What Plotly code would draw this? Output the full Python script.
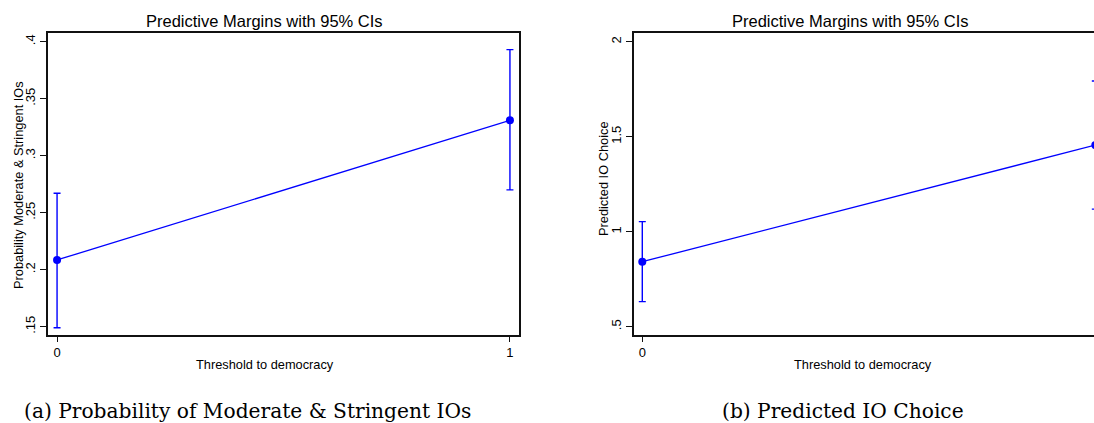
import plotly.graph_objects as go

W, H = 1094, 423

# ---- data ----
x_cat = [0, 1]
# (a) Probability of Moderate & Stringent IOs
a_margin = [0.2085, 0.331]
a_lower = [0.149, 0.270]
a_upper = [0.267, 0.393]
a_yticks = [0.15, 0.2, 0.25, 0.3, 0.35, 0.4]
a_yticktext = [".15", ".2", ".25", ".3", ".35", ".4"]
# (b) Predicted IO Choice
b_margin = [0.842, 1.456]
b_lower = [0.632, 1.119]
b_upper = [1.053, 1.793]
b_yticks = [0.5, 1, 1.5, 2]
b_yticktext = [".5", "1", "1.5", "2"]
x_ticks = [0, 1]
x_ticktext = ["0", "1"]

BLUE = "rgb(0,0,255)"
SANS = "Liberation Sans, Arial, sans-serif"
SERIF = "DejaVu Serif, serif"


def px_x(v):
    return v / W


def px_y(v):
    return 1 - v / H


fig = go.Figure()


def add_panel(xa, ya, margin, lower, upper):
    plus = [u - m for u, m in zip(upper, margin)]
    minus = [m - l for m, l in zip(margin, lower)]
    fig.add_trace(go.Scatter(
        x=x_cat, y=margin, mode="lines+markers",
        line=dict(color=BLUE, width=1.3),
        marker=dict(color=BLUE, size=8),
        error_y=dict(type="data", symmetric=False, array=plus, arrayminus=minus,
                     color=BLUE, thickness=1.4, width=3.5),
        xaxis=xa, yaxis=ya, showlegend=False, cliponaxis=True,
    ))


add_panel("x", "y", a_margin, a_lower, a_upper)
add_panel("x2", "y2", b_margin, b_lower, b_upper)

ydom = [px_y(335), px_y(33)]
axis_common = dict(showgrid=False, zeroline=False, ticks="outside",
                   tickcolor="#111", linecolor="#111", linewidth=1.5,
                   tickfont=dict(family=SANS, size=13, color="#000"))

fig.update_layout(
    width=W, height=H,
    margin=dict(l=0, r=0, t=0, b=0),
    paper_bgcolor="white", plot_bgcolor="white",
    xaxis=dict(domain=[px_x(48), px_x(519)], range=[-0.02, 1.02],
               tickvals=x_ticks, ticktext=x_ticktext, ticklen=5,
               showline=True, mirror=True, anchor="y", **axis_common),
    yaxis=dict(domain=ydom, range=[0.1427, 0.4076],
               tickvals=a_yticks, ticktext=a_yticktext, tickangle=-90, ticklen=6,
               showline=True, mirror=True, anchor="x", **axis_common),
    xaxis2=dict(domain=[px_x(634), 1.0], range=[-0.0183, 0.9971],
                tickvals=x_ticks, ticktext=x_ticktext, ticklen=5,
                showline=True, mirror=True, anchor="y2", **axis_common),
    yaxis2=dict(domain=ydom, range=[0.4563, 2.0458],
                tickvals=b_yticks, ticktext=b_yticktext, tickangle=-90, ticklen=6,
                showline=True, mirror=False, anchor="x2", **axis_common),
)

annots = []


def text(x, y, s, size, family=SANS, angle=0):
    annots.append(dict(x=px_x(x), y=px_y(y), xref="paper", yref="paper",
                       text=s, showarrow=False, xanchor="center", yanchor="middle",
                       textangle=angle, font=dict(family=family, size=size, color="#000")))


# titles
text(264.5, 21, "Predictive Margins with 95% CIs", 16.5)
text(850, 21, "Predictive Margins with 95% CIs", 16.5)
# axis titles
text(265, 364, "Threshold to democracy", 12.8)
text(863, 364, "Threshold to democracy", 12.8)
text(18, 185, "Probability Moderate & Stringent IOs", 12.8, angle=-90)
text(603, 179, "Predicted IO Choice", 12.8, angle=-90)
# captions
text(247.5, 411, "(a) Probability of Moderate &amp; Stringent IOs", 20.2, family=SERIF)
text(843, 411, "(b) Predicted IO Choice", 20.2, family=SERIF)

fig.update_layout(annotations=annots)

fig.write_html("out.html")
